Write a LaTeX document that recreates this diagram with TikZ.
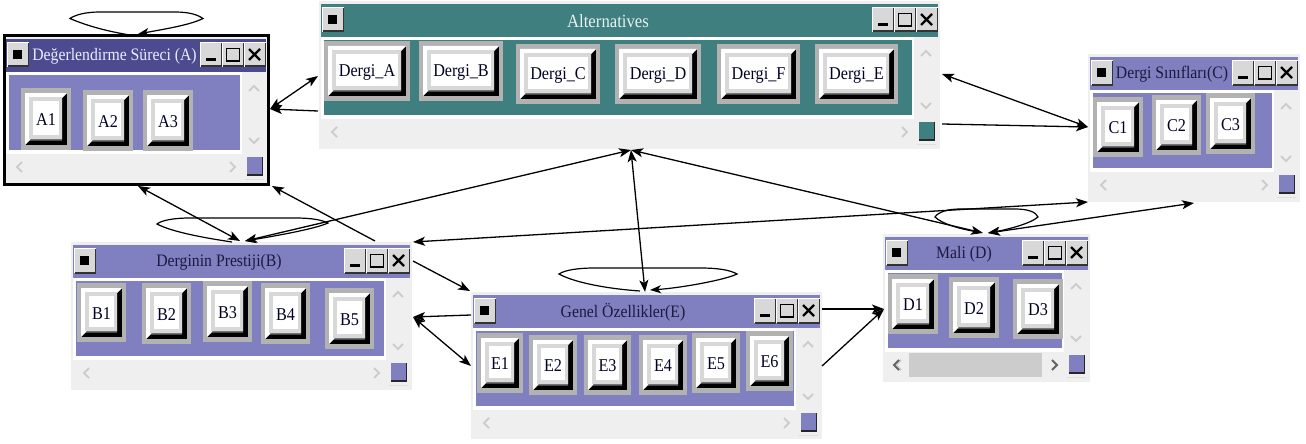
\documentclass[tikz,border=0pt]{standalone}
\usepackage{fontspec}
\setmainfont{Liberation Serif}
\newfontfamily\squeezed[FakeStretch=0.9]{Liberation Serif}
\usetikzlibrary{arrows.meta}
\definecolor{winbg}{HTML}{EFEFEF}
\definecolor{panelblue}{HTML}{807FBF}
\definecolor{bardark}{HTML}{4D4B8F}
\definecolor{teal}{HTML}{3F7F7F}
\definecolor{btngray}{HTML}{B2B2B2}
\definecolor{facegray}{HTML}{D8D8D8}
\definecolor{chev}{HTML}{CDCDCD}
\definecolor{darktitle}{HTML}{1C1A40}
\tikzset{
  winnode/.style={anchor=north west,inner sep=0pt,outer sep=0pt,fill=winbg},
  wintitle/.style={inner sep=0pt,font=\squeezed\fontsize{17.5}{20}\selectfont,text=darktitle},
  btnlabel/.style={inner sep=0pt,font=\squeezed\fontsize{18}{20}\selectfont,text=black!85!blue},
  link/.style={black,line width=1.3pt},
  both/.style={link,{Stealth[length=12pt,width=9pt,inset=3pt]}-{Stealth[length=12pt,width=9pt,inset=3pt]}},
  onearrow/.style={link,-{Stealth[length=12pt,width=9pt,inset=3pt]}},
  loopline/.style={link,line width=1.2pt,-{Stealth[length=11pt,width=8pt,inset=3pt]}},
  chevron/.style={chev,line width=2pt},
}
% window title-bar button, local coordinates
\newcommand{\tbtn}[3]{%
  \fill[white] (#1,#2) rectangle ++(#3,25);
  \fill[black!80] (#1+1,#2+1) rectangle ++(#3-1,24.5);
  \fill[facegray] (#1+1,#2+1) rectangle ++(#3-2,22.5);
}
% \winbox{name}{x0}{y0}{x1}{y1}{bar colour}{panel colour}
\newcommand{\winbox}[7]{%
  \pgfmathsetmacro\ww{#4-#2}\pgfmathsetmacro\wh{#5-#3}%
  \begin{scope}[shift={(#2,#3)}]
    \node[winnode,minimum width=\ww pt,minimum height=\wh pt] (#1) at (0,0) {};
    \fill[#6] (2,3) rectangle (\ww-2,36);
    \fill[white] (2,36) rectangle (\ww-26,118);
    \fill[#7] (5,39) rectangle (\ww-28,114);
    % system button
    \tbtn{3}{6}{22}
    \fill[black] (9,14) rectangle (18,23);
    % min, max, close
    \tbtn{\ww-68}{6}{22}
    \tbtn{\ww-46}{6}{22}
    \tbtn{\ww-24}{6}{22}
    \fill[black] (\ww-62,22) rectangle (\ww-52,25);
    \draw[black,line width=1.2pt] (\ww-41.5,12.5) rectangle (\ww-28.5,25);
    \draw[black,line width=2.2pt] (\ww-19,13) -- (\ww-8,24) (\ww-8,13) -- (\ww-19,24);
    % scroll chevrons
    \draw[chevron] (\ww-19,55) -- (\ww-14,50) -- (\ww-9,55);
    \draw[chevron] (\ww-19,102) -- (\ww-14,107) -- (\ww-9,102);
    \draw[chevron] (18,126) -- (13,131) -- (18,136);
    \draw[chevron] (\ww-38,126) -- (\ww-33,131) -- (\ww-38,136);
    % resize square
    \fill[black!85] (\ww-21,121) rectangle (\ww-5,140);
    \fill[#7] (\ww-21,121) rectangle (\ww-6.5,138);
    \fill[black!12] (\ww-23,143) rectangle (\ww-4,144);
  \end{scope}}
% \btn{name}{x0}{y0}{x1}{y1}{label}
\newcommand{\btn}[6]{%
  \pgfmathsetmacro\bw{#4-#2}\pgfmathsetmacro\bh{#5-#3}%
  \pgfmathsetmacro\br{\bw-4}\pgfmathsetmacro\bb{\bh-5}%
  \begin{scope}[shift={(#2,#3)}]
    \fill[btngray] (0,0) rectangle (\bw,\bh);
    \fill[black] (4,5) rectangle (\br,\bb);
    \fill[white] (4,5) -- (\br,5) -- (\br-5,10) -- (\br-5,\bb-6) -- (10,\bb-6) -- (4,\bb) -- cycle;
    \fill[black!55] (10,\bb-6) -- (\br-5,\bb-6) -- (\br-5,\bb-4.5) -- (8.5,\bb-4.5) -- cycle;
    \fill[facegray] (8,9) rectangle (\br-5,\bb-6);
    \fill[white] (11.5,13) rectangle (\br-8,\bb-10);
    \node[btnlabel] (#1) at (\bw/2,\bh/2+1) {#6};
  \end{scope}}
\begin{document}
\begin{tikzpicture}[x=1pt,y=-1pt]
\useasboundingbox (0,0) rectangle (1306,444);
\fill[white] (0,0) rectangle (1306,444);

% windows
\winbox{Alt}{319}{1}{940}{149}{teal}{teal}
\winbox{C}{1088}{54}{1300}{202}{panelblue}{panelblue}
\winbox{B}{71}{242}{412}{390}{panelblue}{panelblue}
\winbox{E}{471}{292}{822}{439}{panelblue}{panelblue}
\winbox{D}{883}{234}{1090}{382}{panelblue}{panelblue}
\winbox{A}{4}{36}{268}{184}{bardark}{panelblue}
\draw[black,line width=3pt] (A.north west) rectangle (A.south east);

% D has a live horizontal scroll bar
\fill[black!20] (909,353) rectangle (1042,377);
\draw[black!60,line width=2pt] (899,360) -- (894,365) -- (899,370);
\draw[black!60,line width=2pt] (1052,360) -- (1057,365) -- (1052,370);

% titles
\node[wintitle,text=black!6!blue!8!white] (tA) at (114.5,56) {Değerlendirme Süreci (A)};
\node[wintitle,text=white!88!teal,font=\squeezed\fontsize{18.6}{20}\selectfont] (tAlt) at (608,21.5) {Alternatives};
\node[wintitle] (tC) at (1172,74) {Dergi Sınıfları(C)};
\node[wintitle] (tB) at (219,262) {Derginin Prestiji(B)};
\node[wintitle] (tE) at (623,312) {Genel Özellikler(E)};
\node[wintitle] (tD) at (964,254) {Mali (D)};

% buttons
\btn{A1}{21}{88}{71}{150}{A1}
\btn{A2}{83}{90}{133}{151}{A2}
\btn{A3}{143}{90}{193}{151}{A3}
\btn{DA}{324}{41}{410}{101}{Dergi\_A}
\btn{DB}{419}{41}{503}{101}{Dergi\_B}
\btn{DC}{516}{44}{600}{104}{Dergi\_C}
\btn{DD}{615}{44}{701}{104}{Dergi\_D}
\btn{DF}{717}{44}{800}{104}{Dergi\_F}
\btn{DE}{815}{44}{898}{104}{Dergi\_E}
\btn{C1}{1093}{97}{1143}{157}{C1}
\btn{C2}{1152}{95}{1201}{155}{C2}
\btn{C3}{1206}{93}{1255}{154}{C3}
\btn{B1}{77}{283}{126}{342}{B1}
\btn{B2}{142}{283}{191}{344}{B2}
\btn{B3}{203}{281}{252}{342}{B3}
\btn{B4}{261}{283}{310}{344}{B4}
\btn{B5}{325}{288}{374}{349}{B5}
\btn{E1}{477}{333}{523}{393}{E1}
\btn{E2}{529}{335}{577}{395}{E2}
\btn{E3}{584}{335}{631}{395}{E3}
\btn{E4}{639}{335}{687}{395}{E4}
\btn{E5}{692}{333}{740}{393}{E5}
\btn{E6}{746}{331}{793}{391}{E6}
\btn{D1}{888}{274}{938}{334}{D1}
\btn{D2}{949}{277}{999}{338}{D2}
\btn{D3}{1013}{279}{1063}{339}{D3}

% connector ends
\coordinate (Ae) at (270,109);
\coordinate (Ab) at (138,186);
\coordinate (Ac) at (272,186);
\coordinate (At) at (138,34);
\coordinate (Ats) at (130,35);
\coordinate (Alw) at (318,76);
\coordinate (Alw2) at (318,111);
\coordinate (Ale) at (942,74);
\coordinate (Ale2) at (942,124);
\coordinate (Alb) at (631,150);
\coordinate (Cw) at (1088,127);
\coordinate (Cb1) at (1088,202);
\coordinate (Cb2) at (1194,203);
\coordinate (Bt) at (240,241);
\coordinate (Bt2) at (245,241);
\coordinate (Bts) at (232,242);
\coordinate (Btr) at (375,241);
\coordinate (Be1) at (413,242);
\coordinate (Be2) at (413,261);
\coordinate (Be3) at (413,317);
\coordinate (Ew1) at (470,291);
\coordinate (Ew2) at (471,315);
\coordinate (Ew3) at (471,366);
\coordinate (Et) at (645,292);
\coordinate (Et2) at (650,290);
\coordinate (Ets) at (640,291);
\coordinate (Ee1) at (822,309);
\coordinate (Ee2) at (822,366);
\coordinate (Dw) at (884,309);
\coordinate (Dt) at (983,233);
\coordinate (Dt2) at (988,233);
\coordinate (Dts) at (978,232);

% connectors
\draw[both] (Ae) -- (Alw);
\draw[onearrow] (Alw2) -- (Ae);
\draw[both] (Ale) -- (Cw);
\draw[onearrow] (Ale2) -- (Cw);
\draw[both] (Be1) -- (Cb1);
\draw[both] (Dt2) -- (Cb2);
\draw[both] (Alb) -- (Dt);
\draw[both] (Bt2) -- (Alb);
\draw[both] (Alb) -- (Et);
\draw[both] (Ab) -- (Bt);
\draw[onearrow] (Btr) -- (Ac);
\draw[onearrow] (Be2) -- (Ew1);
\draw[onearrow] (Ew2) -- (Be3);
\draw[both] (Be3) -- (Ew3);
\draw[onearrow] (Ee1) -- (Dw);
\draw[onearrow] (Ee2) -- (Dw);

% self loops
\draw[loopline] (Ats) .. controls (105,31) and (85,25) .. (70,18.5) .. controls (75,15) and (85,12) .. (100,12) -- (175,12) .. controls (190,12) and (198,15) .. (203,18.5) .. controls (190,25) and (165,29) .. (At);
\draw[loopline] (Bts) .. controls (205,238) and (172,232) .. (157,224) .. controls (162,220) and (175,218) .. (190,218) -- (295,218) .. controls (312,218) and (322,220) .. (328,223) .. controls (315,229) and (275,236) .. (Bt2);
\draw[loopline] (Ets) .. controls (610,289) and (575,283) .. (559,274) .. controls (565,270) and (578,268) .. (595,268) -- (700,268) .. controls (718,268) and (730,270) .. (737,274) .. controls (725,280) and (680,288) .. (Et2);
\draw[loopline] (Dts) .. controls (960,229) and (942,224) .. (935,217) .. controls (938,212) and (948,209) .. (960,209) -- (1015,209) .. controls (1028,209) and (1036,212) .. (1038,217) .. controls (1030,224) and (1005,230) .. (Dt2);
\end{tikzpicture}
\end{document}
